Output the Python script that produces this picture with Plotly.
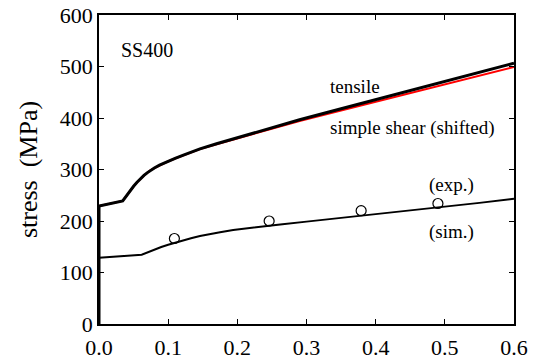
import plotly.graph_objects as go

# tensile curve (black)
strain_t = [0, 0, 0.0343, 0.04, 0.045, 0.05, 0.055, 0.06, 0.065, 0.07, 0.0737, 0.08,
            0.0875, 0.0979, 0.11, 0.122, 0.134, 0.146, 0.17, 0.194, 0.24, 0.29, 0.35,
            0.4, 0.445, 0.5, 0.55, 0.6]
stress_t = [0, 229, 239, 250, 259, 267.5, 275.2, 282.2, 288.5, 294, 298, 303,
            308.5, 315, 321.8, 328, 334, 340, 350, 359.5, 377.5, 396.5, 418,
            436, 452, 471.5, 489, 506.5]
# simple shear (shifted) curve (red)
strain_s = strain_t
stress_s = [0, 229, 239, 250, 259, 267.3, 275, 282, 288.3, 293.8, 297.8, 302.7,
            308.2, 314.6, 321.4, 327.6, 333.6, 339.5, 349, 358, 375.5, 394, 414.5,
            431.5, 447.5, 466, 482.5, 499]
# lower simulated curve
strain_sim = [0, 0, 0.0617, 0.07, 0.08, 0.09, 0.1, 0.11, 0.12, 0.133, 0.146, 0.16,
              0.175, 0.194, 0.218, 0.24, 0.262, 0.3, 0.35, 0.4, 0.45, 0.5, 0.55, 0.6]
stress_sim = [0, 128.5, 134.5, 139.3, 144.6, 149.5, 154, 158.1, 161.9, 166.5, 170.7, 174.6,
              178.3, 182.5, 186.8, 190.2, 193.4, 198.8, 205.8, 212.8, 220, 227.5, 235.2, 243]
# experimental points
strain_exp = [0.109, 0.246, 0.379, 0.49]
stress_exp = [166, 200, 220, 234]

x_ticks = [0.0, 0.1, 0.2, 0.3, 0.4, 0.5, 0.6]
x_ticklabels = ["0.0", "0.1", "0.2", "0.3", "0.4", "0.5", "0.6"]
y_ticks = [0, 100, 200, 300, 400, 500, 600]

FONT = "Liberation Serif"

fig = go.Figure()
fig.add_trace(go.Scatter(x=strain_s, y=stress_s, mode="lines",
                         line=dict(color="#ff0000", width=2), showlegend=False))
fig.add_trace(go.Scatter(x=strain_t, y=stress_t, mode="lines",
                         line=dict(color="black", width=3), showlegend=False))
fig.add_trace(go.Scatter(x=strain_sim, y=stress_sim, mode="lines",
                         line=dict(color="black", width=2), showlegend=False))
fig.add_trace(go.Scatter(x=strain_exp, y=stress_exp, mode="markers",
                         marker=dict(symbol="circle-open", size=10, color="black",
                                     line=dict(width=1.2, color="black")),
                         showlegend=False))

annots = [
    ("SS400", 0.029, 532, 20),
    ("tensile", 0.331, 462, 19),
    ("simple shear (shifted)", 0.331, 381, 19),
    ("(exp.)", 0.474, 269, 19),
    ("(sim.)", 0.474, 179, 19),
]
for text, ax, ay, fs in annots:
    fig.add_annotation(x=ax, y=ay, text=text, showarrow=False, xanchor="left",
                       yanchor="middle", font=dict(family=FONT, size=fs, color="black"))

axis_common = dict(showline=True, linecolor="black", linewidth=1.5, mirror="ticks",
                   ticks="inside", ticklen=5, tickwidth=1, tickcolor="black",
                   showgrid=False, zeroline=False,
                   tickfont=dict(family=FONT, size=22, color="black"))

fig.update_xaxes(range=[0, 0.6], tickvals=x_ticks, ticktext=x_ticklabels,
                 ticklabelstandoff=3, **axis_common)
fig.update_yaxes(range=[0, 600], tickvals=y_ticks,
                 title=dict(text="stress  (MPa)", font=dict(family=FONT, size=26, color="black"),
                            standoff=15),
                 **axis_common)

fig.update_layout(width=539, height=363, font=dict(family=FONT),
                  margin=dict(l=99, r=25, t=15, b=39, autoexpand=False),
                  plot_bgcolor="white", paper_bgcolor="white")

fig.write_html("out.html")
